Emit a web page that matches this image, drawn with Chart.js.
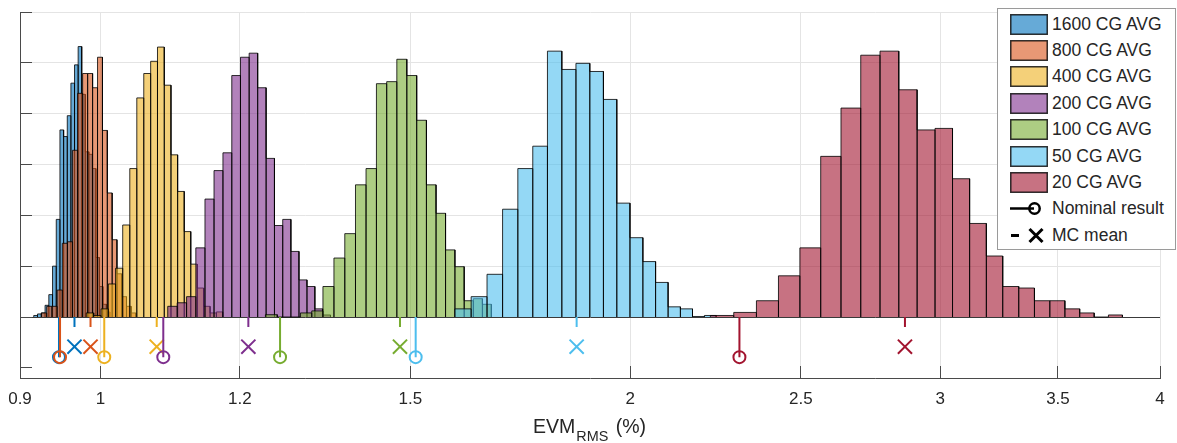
<!DOCTYPE html>
<html>
<head>
<meta charset="utf-8">
<script src="https://cdn.jsdelivr.net/npm/chart.js@4.4.1/dist/chart.umd.min.js"></script>
<style>
  body { margin: 0; background: #fff; }
  #wrap { position: relative; width: 1177px; height: 443px; font-family: "Liberation Sans", Arial, Helvetica, sans-serif; color: #262626; }
  #legend { position: absolute; left: 997px; top: 8px; width: 177px; height: 240px; border: 1px solid #9a9a9a; background: #fff; }
  .row { position: absolute; left: 0; height: 26px; display: flex; align-items: center; font-size: 17.5px; white-space: nowrap; }
  .row svg { margin-left: 12px; margin-right: 4px; }
  #xtitle { position: absolute; left: 533px; top: 417px; font-size: 19.5px; line-height: 19.5px; white-space: nowrap; }
  #xtitle span { font-size: 14.4px; position: relative; top: 8.4px; margin-left: 1px; margin-right: 2px; }
</style>
</head>
<body>
<div id="wrap">
  <canvas id="myChart"></canvas>
  <div id="legend"></div>
  <div id="xtitle">EVM<span>RMS</span> (%)</div>
</div>
<script>
// series
var seriesNames = ['1600 CG AVG', '800 CG AVG', '400 CG AVG', '200 CG AVG', '100 CG AVG', '50 CG AVG', '20 CG AVG'];
var seriesColors = ['#0072BD', '#D95319', '#EDB120', '#7E2F8E', '#77AC30', '#4DBEEE', '#A2142F'];

// histogram bins: first edge, bin width, bar heights
var binStart = [0.9163, 0.9256, 0.9815, 1.0919, 1.2408, 1.590, 2.221];
var binWidth = [0.00457, 0.00641, 0.00959, 0.01364, 0.0194, 0.0341, 0.069];
var counts1600 = [0.03, 0.06, 0.08, 0.23, 0.44, 1.0, 1.92, 3.68, 3.55, 3.96, 4.60, 4.96, 5.32, 4.38, 3.25, 3.2, 2.92, 1.17, 0.6, 0.25, 0.1];
var counts800 = [0.08, 0.21, 0.21, 0.53, 1.45, 1.48, 3.28, 4.40, 4.79, 4.79, 4.51, 5.11, 3.67, 2.44, 1.52, 0.85, 0.40, 0.21, 0.08];
var counts400 = [0.08, 0.03, 0.16, 0.65, 0.96, 1.81, 2.92, 4.31, 4.79, 5.03, 5.31, 4.56, 3.19, 2.47, 1.68, 1.04, 0.57, 0.21, 0.08, 0.10];
var counts200 = [0.21, 0.28, 0.40, 1.36, 2.32, 2.88, 3.23, 4.75, 5.11, 5.19, 4.51, 3.12, 1.80, 1.92, 1.29, 0.73, 0.60, 0.16, 0.04];
var counts100 = [0.045, 0, 0, 0.08, 0.12, 0.60, 1.16, 1.64, 2.60, 2.92, 4.59, 4.63, 5.07, 4.75, 3.87, 2.60, 2.04, 1.32, 0.99, 0.32, 0.36, 0.25];
var counts50 = [0.16, 0.40, 0.84, 2.12, 2.92, 3.36, 5.23, 4.87, 4.99, 4.83, 4.28, 2.24, 1.56, 1.09, 0.68, 0.20, 0.16, 0.01, 0.03];
var counts20 = [0.03, 0.09, 0.32, 0.81, 1.36, 3.16, 4.11, 5.15, 5.23, 4.47, 3.68, 3.71, 2.72, 1.84, 1.20, 0.60, 0.57, 0.32, 0.32, 0.16, 0.08, 0, 0.04];
var allCounts = [counts1600, counts800, counts400, counts200, counts100, counts50, counts20];

// markers under the axis
var nominalResult = [0.9471, 0.9484, 1.0049, 1.0856, 1.2648, 1.5104, 2.3071];
var mcMean = [0.9665, 0.9870, 1.0763, 1.2134, 1.4797, 1.8645, 2.8650];

var xTicks = [0.9, 1, 1.2, 1.5, 2, 2.5, 3, 3.5, 4];
var yTicks = [-1, 0, 1, 2, 3, 4, 5, 6];

// where the marker rows sit below zero
var nominalLevel = -0.79;
var meanLevel = -0.585;
var meanStemEnd = -0.195;

var fontFamily = '"Liberation Sans", Arial, Helvetica, sans-serif';

function rgba(hex, a) {
    var r = parseInt(hex.substr(1, 2), 16);
    var g = parseInt(hex.substr(3, 2), 16);
    var b = parseInt(hex.substr(5, 2), 16);
    return 'rgba(' + r + ',' + g + ',' + b + ',' + a + ')';
}

function histPoints(start, width, counts) {
    var pts = [];
    counts.forEach(function (c, j) {
        var a = start + j * width;
        var b = a + width;
        pts.push({x: a, y: 0}, {x: a, y: c}, {x: b, y: c}, {x: b, y: 0});
    });
    return pts;
}

var datasets = [];
seriesNames.forEach(function (name, i) {
    datasets.push({
        label: name,
        data: histPoints(binStart[i], binWidth[i], allCounts[i]),
        borderColor: 'rgba(0,0,0,0.8)',
        borderWidth: 1,
        backgroundColor: rgba(seriesColors[i], 0.6),
        fill: 'origin',
        pointRadius: 0,
        tension: 0,
        order: 100 - i
    });
});

seriesNames.forEach(function (name, i) {
    // nominal result stem with circle
    datasets.push({
        label: name + ' nominal',
        data: [{x: nominalResult[i], y: 0}, {x: nominalResult[i], y: nominalLevel}],
        borderColor: seriesColors[i],
        borderWidth: 2,
        fill: false,
        pointRadius: [0, 6],
        pointStyle: 'circle',
        pointBorderWidth: 2,
        pointBorderColor: seriesColors[i],
        pointBackgroundColor: 'rgba(0,0,0,0)',
        order: 20 - i
    });
    // MC mean short stem
    datasets.push({
        label: name + ' mean stem',
        data: [{x: mcMean[i], y: 0}, {x: mcMean[i], y: meanStemEnd}],
        borderColor: seriesColors[i],
        borderWidth: 2,
        fill: false,
        pointRadius: 0,
        order: 20 - i
    });
    // MC mean cross
    datasets.push({
        label: name + ' mean',
        data: [{x: mcMean[i], y: meanLevel}],
        showLine: false,
        fill: false,
        pointRadius: 10,
        pointStyle: 'crossRot',
        pointBorderWidth: 2,
        pointBorderColor: seriesColors[i],
        order: 20 - i
    });
});

var ctx = document.getElementById('myChart').getContext('2d');
var myChart = new Chart(ctx, {
    type: 'line',
    data: { datasets: datasets },
    options: {
        responsive: true,
        maintainAspectRatio: false,
        animation: false,
        events: [],
        layout: { padding: { top: 9, right: 17, left: 0, bottom: 0 } },
        plugins: {
            legend: { display: false },
            tooltip: { enabled: false }
        },
        scales: {
            x: {
                type: 'logarithmic',
                min: 0.9,
                max: 4,
                afterBuildTicks: function (s) { s.ticks = xTicks.map(function (v) { return {value: v}; }); },
                afterFit: function (s) {
                    s.height = 65;
                    s.paddingLeft = 0;
                    s.paddingRight = 0;
                    s.paddingTop = 0;
                    s.paddingBottom = 0;
                },
                ticks: {
                    autoSkip: false,
                    maxRotation: 0,
                    padding: 23,
                    color: '#262626',
                    font: { family: fontFamily, size: 17 },
                    callback: function (v) { return String(v); }
                },
                grid: { color: '#e4e4e4', tickLength: -12, tickColor: '#4a4a4a' },
                border: { color: '#4a4a4a', width: 1 }
            },
            y: {
                min: -1.2,
                max: 6,
                afterBuildTicks: function (s) { s.ticks = yTicks.map(function (v) { return {value: v}; }); },
                afterFit: function (s) {
                    s.width = 20;
                    s.paddingTop = 0;
                    s.paddingBottom = 0;
                },
                ticks: { display: false },
                grid: {
                    color: function (c) {
                        if (c.tick.value > 0) return '#e4e4e4';
                        if (c.tick.value === 0) return '#3a3a3a';
                        return 'rgba(0,0,0,0)';
                    },
                    tickLength: -12,
                    tickColor: '#4a4a4a'
                },
                border: { color: '#4a4a4a', width: 1 }
            }
        }
    }
});

// legend
var legend = document.getElementById('legend');
var rowTop = 2, rowStep = 26.4;
seriesNames.forEach(function (name, i) {
    var row = document.createElement('div');
    row.className = 'row';
    row.style.top = (rowTop + i * rowStep) + 'px';
    row.innerHTML = '<svg width="38" height="21"><rect x="0.75" y="0.75" width="36.5" height="19.5" fill="' +
        rgba(seriesColors[i], 0.6) + '" stroke="rgba(0,0,0,0.8)" stroke-width="1.5"/></svg><span>' + name + '</span>';
    legend.appendChild(row);
});
var nomRow = document.createElement('div');
nomRow.className = 'row';
nomRow.style.top = (rowTop + 7 * rowStep) + 'px';
nomRow.innerHTML = '<svg width="38" height="21"><line x1="0" y1="10.5" x2="24" y2="10.5" stroke="#000" stroke-width="2.5"/>' +
    '<circle cx="24.5" cy="10.5" r="5.2" fill="none" stroke="#000" stroke-width="2.5"/></svg><span>Nominal result</span>';
legend.appendChild(nomRow);
var meanRow = document.createElement('div');
meanRow.className = 'row';
meanRow.style.top = (rowTop + 8 * rowStep) + 'px';
meanRow.innerHTML = '<svg width="38" height="21"><line x1="1" y1="10.5" x2="9" y2="10.5" stroke="#000" stroke-width="3"/>' +
    '<line x1="19.5" y1="4" x2="32.5" y2="17" stroke="#000" stroke-width="3"/><line x1="32.5" y1="4" x2="19.5" y2="17" stroke="#000" stroke-width="3"/></svg><span>MC mean</span>';
legend.appendChild(meanRow);
</script>
</body>
</html>
